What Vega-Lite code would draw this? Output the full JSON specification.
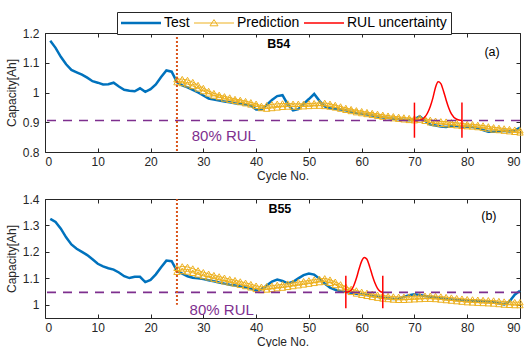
{
  "$schema": "https://vega.github.io/schema/vega-lite/v6.json",
  "background": "white",
  "padding": {"left": 5, "top": 11, "right": 0, "bottom": 0},
  "bounds": "flush",
  "spacing": 47,
  "resolve": {"legend": {"color": "independent"}, "scale": {"color": "independent"}},
  "config": {
    "font": "Liberation Sans",
    "view": {"stroke": null},
    "axis": {
      "grid": false,
      "domainColor": "#262626",
      "tickColor": "#262626",
      "labelColor": "#262626",
      "titleColor": "#262626",
      "labelFontSize": 12,
      "titleFontSize": 12,
      "titleFontWeight": "normal",
      "tickSize": -4,
      "labelPadding": 10,
      "domainWidth": 1,
      "tickWidth": 1
    },
    "axisX": {"labelPadding": 8, "titlePadding": 3},
    "axisY": {"titlePadding": 4}
  },
  "datasets": {
    "one": [{"k": 1}],
    "b54": [
      {"c":1,"v":1.174,"s":"Test","r":"T"},{"c":2,"v":1.15,"s":"Test","r":"T"},{"c":3,"v":1.12,"s":"Test","r":"T"},{"c":4,"v":1.095,"s":"Test","r":"T"},{"c":5,"v":1.076,"s":"Test","r":"T"},
      {"c":6,"v":1.068,"s":"Test","r":"T"},{"c":7,"v":1.06,"s":"Test","r":"T"},{"c":8,"v":1.05,"s":"Test","r":"T"},{"c":9,"v":1.038,"s":"Test","r":"T"},{"c":10,"v":1.033,"s":"Test","r":"T"},
      {"c":11,"v":1.027,"s":"Test","r":"T"},{"c":12,"v":1.028,"s":"Test","r":"T"},{"c":13,"v":1.033,"s":"Test","r":"T"},{"c":14,"v":1.02,"s":"Test","r":"T"},{"c":15,"v":1.009,"s":"Test","r":"T"},
      {"c":16,"v":1.006,"s":"Test","r":"T"},{"c":17,"v":1.004,"s":"Test","r":"T"},{"c":18,"v":1.014,"s":"Test","r":"T"},{"c":19,"v":1.002,"s":"Test","r":"T"},{"c":20,"v":1.011,"s":"Test","r":"T"},
      {"c":21,"v":1.027,"s":"Test","r":"T"},{"c":22,"v":1.052,"s":"Test","r":"T"},{"c":23,"v":1.074,"s":"Test","r":"T"},{"c":24,"v":1.07,"s":"Test","r":"T"},{"c":25,"v":1.035,"s":"Test","r":"T"},
      {"c":26,"v":1.024,"s":"Test","r":"T"},{"c":27,"v":1.017,"s":"Test","r":"T"},{"c":28,"v":1.009,"s":"Test","r":"T"},{"c":29,"v":1.0,"s":"Test","r":"T"},{"c":30,"v":0.99,"s":"Test","r":"T"},
      {"c":31,"v":0.98,"s":"Test","r":"T"},{"c":32,"v":0.976,"s":"Test","r":"T"},{"c":33,"v":0.973,"s":"Test","r":"T"},{"c":34,"v":0.97,"s":"Test","r":"T"},{"c":35,"v":0.967,"s":"Test","r":"T"},
      {"c":36,"v":0.964,"s":"Test","r":"T"},{"c":37,"v":0.962,"s":"Test","r":"T"},{"c":38,"v":0.96,"s":"Test","r":"T"},{"c":39,"v":0.956,"s":"Test","r":"T"},{"c":40,"v":0.943,"s":"Test","r":"T"},
      {"c":41,"v":0.943,"s":"Test","r":"T"},{"c":42,"v":0.958,"s":"Test","r":"T"},{"c":43,"v":0.975,"s":"Test","r":"T"},{"c":44,"v":0.988,"s":"Test","r":"T"},{"c":45,"v":0.991,"s":"Test","r":"T"},
      {"c":46,"v":0.96,"s":"Test","r":"T"},{"c":47,"v":0.94,"s":"Test","r":"T"},{"c":48,"v":0.944,"s":"Test","r":"T"},{"c":49,"v":0.962,"s":"Test","r":"T"},{"c":50,"v":0.978,"s":"Test","r":"T"},
      {"c":51,"v":0.995,"s":"Test","r":"T"},{"c":52,"v":0.972,"s":"Test","r":"T"},{"c":53,"v":0.953,"s":"Test","r":"T"},{"c":54,"v":0.947,"s":"Test","r":"T"},{"c":55,"v":0.945,"s":"Test","r":"T"},
      {"c":56,"v":0.943,"s":"Test","r":"T"},{"c":57,"v":0.94,"s":"Test","r":"T"},{"c":58,"v":0.935,"s":"Test","r":"T"},{"c":59,"v":0.931,"s":"Test","r":"T"},{"c":60,"v":0.929,"s":"Test","r":"T"},
      {"c":61,"v":0.926,"s":"Test","r":"T"},{"c":62,"v":0.923,"s":"Test","r":"T"},{"c":63,"v":0.919,"s":"Test","r":"T"},{"c":64,"v":0.916,"s":"Test","r":"T"},{"c":65,"v":0.914,"s":"Test","r":"T"},
      {"c":66,"v":0.912,"s":"Test","r":"T"},{"c":67,"v":0.91,"s":"Test","r":"T"},{"c":68,"v":0.908,"s":"Test","r":"T"},{"c":69,"v":0.907,"s":"Test","r":"T"},{"c":70,"v":0.91,"s":"Test","r":"T"},
      {"c":71,"v":0.92,"s":"Test","r":"T"},{"c":72,"v":0.905,"s":"Test","r":"T"},{"c":73,"v":0.892,"s":"Test","r":"T"},{"c":74,"v":0.889,"s":"Test","r":"T"},{"c":75,"v":0.886,"s":"Test","r":"T"},
      {"c":76,"v":0.884,"s":"Test","r":"T"},{"c":77,"v":0.887,"s":"Test","r":"T"},{"c":78,"v":0.887,"s":"Test","r":"T"},{"c":79,"v":0.886,"s":"Test","r":"T"},{"c":80,"v":0.885,"s":"Test","r":"T"},
      {"c":81,"v":0.884,"s":"Test","r":"T"},{"c":82,"v":0.881,"s":"Test","r":"T"},{"c":83,"v":0.874,"s":"Test","r":"T"},{"c":84,"v":0.868,"s":"Test","r":"T"},{"c":85,"v":0.868,"s":"Test","r":"T"},
      {"c":86,"v":0.87,"s":"Test","r":"T"},{"c":87,"v":0.871,"s":"Test","r":"T"},{"c":88,"v":0.869,"s":"Test","r":"T"},{"c":89,"v":0.872,"s":"Test","r":"T"},{"c":90,"v":0.882,"s":"Test","r":"T"},

      {"c":25,"v":1.045,"s":"Prediction","r":"A"},{"c":26,"v":1.045,"s":"Prediction","r":"A"},{"c":27,"v":1.042,"s":"Prediction","r":"A"},{"c":28,"v":1.035,"s":"Prediction","r":"A"},{"c":29,"v":1.025,"s":"Prediction","r":"A"},
      {"c":30,"v":1.015,"s":"Prediction","r":"A"},{"c":31,"v":1.005,"s":"Prediction","r":"A"},{"c":32,"v":0.998,"s":"Prediction","r":"A"},{"c":33,"v":0.992,"s":"Prediction","r":"A"},{"c":34,"v":0.987,"s":"Prediction","r":"A"},
      {"c":35,"v":0.983,"s":"Prediction","r":"A"},{"c":36,"v":0.978,"s":"Prediction","r":"A"},{"c":37,"v":0.975,"s":"Prediction","r":"A"},{"c":38,"v":0.971,"s":"Prediction","r":"A"},{"c":39,"v":0.967,"s":"Prediction","r":"A"},
      {"c":40,"v":0.962,"s":"Prediction","r":"A"},{"c":41,"v":0.955,"s":"Prediction","r":"A"},{"c":42,"v":0.957,"s":"Prediction","r":"A"},{"c":43,"v":0.96,"s":"Prediction","r":"A"},{"c":44,"v":0.962,"s":"Prediction","r":"A"},
      {"c":45,"v":0.963,"s":"Prediction","r":"A"},{"c":46,"v":0.963,"s":"Prediction","r":"A"},{"c":47,"v":0.962,"s":"Prediction","r":"A"},{"c":48,"v":0.962,"s":"Prediction","r":"A"},{"c":49,"v":0.962,"s":"Prediction","r":"A"},
      {"c":50,"v":0.963,"s":"Prediction","r":"A"},{"c":51,"v":0.964,"s":"Prediction","r":"A"},{"c":52,"v":0.965,"s":"Prediction","r":"A"},{"c":53,"v":0.965,"s":"Prediction","r":"A"},{"c":54,"v":0.962,"s":"Prediction","r":"A"},
      {"c":55,"v":0.958,"s":"Prediction","r":"A"},{"c":56,"v":0.953,"s":"Prediction","r":"A"},{"c":57,"v":0.948,"s":"Prediction","r":"A"},{"c":58,"v":0.944,"s":"Prediction","r":"A"},{"c":59,"v":0.94,"s":"Prediction","r":"A"},
      {"c":60,"v":0.937,"s":"Prediction","r":"A"},{"c":61,"v":0.934,"s":"Prediction","r":"A"},{"c":62,"v":0.931,"s":"Prediction","r":"A"},{"c":63,"v":0.928,"s":"Prediction","r":"A"},{"c":64,"v":0.925,"s":"Prediction","r":"A"},
      {"c":65,"v":0.922,"s":"Prediction","r":"A"},{"c":66,"v":0.92,"s":"Prediction","r":"A"},{"c":67,"v":0.918,"s":"Prediction","r":"A"},{"c":68,"v":0.916,"s":"Prediction","r":"A"},{"c":69,"v":0.914,"s":"Prediction","r":"A"},
      {"c":70,"v":0.913,"s":"Prediction","r":"A"},{"c":71,"v":0.915,"s":"Prediction","r":"A"},{"c":72,"v":0.912,"s":"Prediction","r":"A"},{"c":73,"v":0.908,"s":"Prediction","r":"A"},{"c":74,"v":0.905,"s":"Prediction","r":"A"},
      {"c":75,"v":0.903,"s":"Prediction","r":"A"},{"c":76,"v":0.902,"s":"Prediction","r":"A"},{"c":77,"v":0.9,"s":"Prediction","r":"A"},{"c":78,"v":0.898,"s":"Prediction","r":"A"},{"c":79,"v":0.896,"s":"Prediction","r":"A"},
      {"c":80,"v":0.894,"s":"Prediction","r":"A"},{"c":81,"v":0.893,"s":"Prediction","r":"A"},{"c":82,"v":0.891,"s":"Prediction","r":"A"},{"c":83,"v":0.889,"s":"Prediction","r":"A"},{"c":84,"v":0.886,"s":"Prediction","r":"A"},
      {"c":85,"v":0.883,"s":"Prediction","r":"A"},{"c":86,"v":0.881,"s":"Prediction","r":"A"},{"c":87,"v":0.879,"s":"Prediction","r":"A"},{"c":88,"v":0.877,"s":"Prediction","r":"A"},{"c":89,"v":0.875,"s":"Prediction","r":"A"},
      {"c":90,"v":0.873,"s":"Prediction","r":"A"},

      {"c":25,"v":1.035,"s":"Prediction","r":"B"},{"c":26,"v":1.032,"s":"Prediction","r":"B"},{"c":27,"v":1.028,"s":"Prediction","r":"B"},{"c":28,"v":1.022,"s":"Prediction","r":"B"},{"c":29,"v":1.014,"s":"Prediction","r":"B"},
      {"c":30,"v":1.005,"s":"Prediction","r":"B"},{"c":31,"v":0.997,"s":"Prediction","r":"B"},{"c":32,"v":0.99,"s":"Prediction","r":"B"},{"c":33,"v":0.985,"s":"Prediction","r":"B"},{"c":34,"v":0.98,"s":"Prediction","r":"B"},
      {"c":35,"v":0.976,"s":"Prediction","r":"B"},{"c":36,"v":0.972,"s":"Prediction","r":"B"},{"c":37,"v":0.968,"s":"Prediction","r":"B"},{"c":38,"v":0.964,"s":"Prediction","r":"B"},{"c":39,"v":0.96,"s":"Prediction","r":"B"},
      {"c":40,"v":0.955,"s":"Prediction","r":"B"},{"c":41,"v":0.948,"s":"Prediction","r":"B"},{"c":42,"v":0.946,"s":"Prediction","r":"B"},{"c":43,"v":0.948,"s":"Prediction","r":"B"},{"c":44,"v":0.95,"s":"Prediction","r":"B"},
      {"c":45,"v":0.952,"s":"Prediction","r":"B"},{"c":46,"v":0.953,"s":"Prediction","r":"B"},{"c":47,"v":0.953,"s":"Prediction","r":"B"},{"c":48,"v":0.953,"s":"Prediction","r":"B"},{"c":49,"v":0.954,"s":"Prediction","r":"B"},
      {"c":50,"v":0.955,"s":"Prediction","r":"B"},{"c":51,"v":0.956,"s":"Prediction","r":"B"},{"c":52,"v":0.956,"s":"Prediction","r":"B"},{"c":53,"v":0.955,"s":"Prediction","r":"B"},{"c":54,"v":0.953,"s":"Prediction","r":"B"},
      {"c":55,"v":0.95,"s":"Prediction","r":"B"},{"c":56,"v":0.946,"s":"Prediction","r":"B"},{"c":57,"v":0.942,"s":"Prediction","r":"B"},{"c":58,"v":0.938,"s":"Prediction","r":"B"},{"c":59,"v":0.934,"s":"Prediction","r":"B"},
      {"c":60,"v":0.931,"s":"Prediction","r":"B"},{"c":61,"v":0.928,"s":"Prediction","r":"B"},{"c":62,"v":0.925,"s":"Prediction","r":"B"},{"c":63,"v":0.922,"s":"Prediction","r":"B"},{"c":64,"v":0.919,"s":"Prediction","r":"B"},
      {"c":65,"v":0.916,"s":"Prediction","r":"B"},{"c":66,"v":0.914,"s":"Prediction","r":"B"},{"c":67,"v":0.912,"s":"Prediction","r":"B"},{"c":68,"v":0.91,"s":"Prediction","r":"B"},{"c":69,"v":0.908,"s":"Prediction","r":"B"},
      {"c":70,"v":0.907,"s":"Prediction","r":"B"},{"c":71,"v":0.909,"s":"Prediction","r":"B"},{"c":72,"v":0.905,"s":"Prediction","r":"B"},{"c":73,"v":0.9,"s":"Prediction","r":"B"},{"c":74,"v":0.897,"s":"Prediction","r":"B"},
      {"c":75,"v":0.895,"s":"Prediction","r":"B"},{"c":76,"v":0.894,"s":"Prediction","r":"B"},{"c":77,"v":0.892,"s":"Prediction","r":"B"},{"c":78,"v":0.89,"s":"Prediction","r":"B"},{"c":79,"v":0.888,"s":"Prediction","r":"B"},
      {"c":80,"v":0.887,"s":"Prediction","r":"B"},{"c":81,"v":0.886,"s":"Prediction","r":"B"},{"c":82,"v":0.884,"s":"Prediction","r":"B"},{"c":83,"v":0.882,"s":"Prediction","r":"B"},{"c":84,"v":0.879,"s":"Prediction","r":"B"},
      {"c":85,"v":0.876,"s":"Prediction","r":"B"},{"c":86,"v":0.874,"s":"Prediction","r":"B"},{"c":87,"v":0.872,"s":"Prediction","r":"B"},{"c":88,"v":0.87,"s":"Prediction","r":"B"},{"c":89,"v":0.868,"s":"Prediction","r":"B"},
      {"c":90,"v":0.866,"s":"Prediction","r":"B"},

      {"c":70,"v":0.905,"s":"RUL uncertainty","r":"U"},{"c":71,"v":0.907,"s":"RUL uncertainty","r":"U"},{"c":72,"v":0.918,"s":"RUL uncertainty","r":"U"},{"c":72.5,"v":0.932,"s":"RUL uncertainty","r":"U"},
      {"c":73,"v":0.953,"s":"RUL uncertainty","r":"U"},{"c":73.5,"v":0.982,"s":"RUL uncertainty","r":"U"},{"c":74,"v":1.018,"s":"RUL uncertainty","r":"U"},{"c":74.5,"v":1.036,"s":"RUL uncertainty","r":"U"},
      {"c":75,"v":1.03,"s":"RUL uncertainty","r":"U"},{"c":75.5,"v":1.005,"s":"RUL uncertainty","r":"U"},{"c":76,"v":0.975,"s":"RUL uncertainty","r":"U"},{"c":76.5,"v":0.948,"s":"RUL uncertainty","r":"U"},
      {"c":77,"v":0.928,"s":"RUL uncertainty","r":"U"},{"c":78,"v":0.91,"s":"RUL uncertainty","r":"U"},{"c":79,"v":0.906,"s":"RUL uncertainty","r":"U"}
    ],
    "b54bars": [{"c":70,"lo":0.848,"hi":0.966},{"c":79,"lo":0.848,"hi":0.966}],
    "b55": [
      {"c":1,"v":1.325,"s":"Test","r":"T"},{"c":2,"v":1.313,"s":"Test","r":"T"},{"c":3,"v":1.288,"s":"Test","r":"T"},{"c":4,"v":1.255,"s":"Test","r":"T"},{"c":5,"v":1.228,"s":"Test","r":"T"},
      {"c":6,"v":1.212,"s":"Test","r":"T"},{"c":7,"v":1.2,"s":"Test","r":"T"},{"c":8,"v":1.188,"s":"Test","r":"T"},{"c":9,"v":1.172,"s":"Test","r":"T"},{"c":10,"v":1.155,"s":"Test","r":"T"},
      {"c":11,"v":1.145,"s":"Test","r":"T"},{"c":12,"v":1.138,"s":"Test","r":"T"},{"c":13,"v":1.133,"s":"Test","r":"T"},{"c":14,"v":1.122,"s":"Test","r":"T"},{"c":15,"v":1.108,"s":"Test","r":"T"},
      {"c":16,"v":1.101,"s":"Test","r":"T"},{"c":17,"v":1.106,"s":"Test","r":"T"},{"c":18,"v":1.106,"s":"Test","r":"T"},{"c":19,"v":1.086,"s":"Test","r":"T"},{"c":20,"v":1.094,"s":"Test","r":"T"},
      {"c":21,"v":1.115,"s":"Test","r":"T"},{"c":22,"v":1.142,"s":"Test","r":"T"},{"c":23,"v":1.167,"s":"Test","r":"T"},{"c":24,"v":1.165,"s":"Test","r":"T"},{"c":25,"v":1.128,"s":"Test","r":"T"},
      {"c":26,"v":1.118,"s":"Test","r":"T"},{"c":27,"v":1.108,"s":"Test","r":"T"},{"c":28,"v":1.102,"s":"Test","r":"T"},{"c":29,"v":1.1,"s":"Test","r":"T"},{"c":30,"v":1.097,"s":"Test","r":"T"},
      {"c":31,"v":1.093,"s":"Test","r":"T"},{"c":32,"v":1.089,"s":"Test","r":"T"},{"c":33,"v":1.084,"s":"Test","r":"T"},{"c":34,"v":1.08,"s":"Test","r":"T"},{"c":35,"v":1.076,"s":"Test","r":"T"},
      {"c":36,"v":1.073,"s":"Test","r":"T"},{"c":37,"v":1.069,"s":"Test","r":"T"},{"c":38,"v":1.065,"s":"Test","r":"T"},{"c":39,"v":1.061,"s":"Test","r":"T"},{"c":40,"v":1.054,"s":"Test","r":"T"},
      {"c":41,"v":1.058,"s":"Test","r":"T"},{"c":42,"v":1.073,"s":"Test","r":"T"},{"c":43,"v":1.088,"s":"Test","r":"T"},{"c":44,"v":1.095,"s":"Test","r":"T"},{"c":45,"v":1.09,"s":"Test","r":"T"},
      {"c":46,"v":1.081,"s":"Test","r":"T"},{"c":47,"v":1.087,"s":"Test","r":"T"},{"c":48,"v":1.1,"s":"Test","r":"T"},{"c":49,"v":1.112,"s":"Test","r":"T"},{"c":50,"v":1.118,"s":"Test","r":"T"},
      {"c":51,"v":1.114,"s":"Test","r":"T"},{"c":52,"v":1.099,"s":"Test","r":"T"},{"c":53,"v":1.08,"s":"Test","r":"T"},{"c":54,"v":1.065,"s":"Test","r":"T"},{"c":55,"v":1.057,"s":"Test","r":"T"},
      {"c":56,"v":1.051,"s":"Test","r":"T"},{"c":57,"v":1.048,"s":"Test","r":"T"},{"c":58,"v":1.045,"s":"Test","r":"T"},{"c":59,"v":1.042,"s":"Test","r":"T"},{"c":60,"v":1.04,"s":"Test","r":"T"},
      {"c":61,"v":1.037,"s":"Test","r":"T"},{"c":62,"v":1.033,"s":"Test","r":"T"},{"c":63,"v":1.03,"s":"Test","r":"T"},{"c":64,"v":1.027,"s":"Test","r":"T"},{"c":65,"v":1.025,"s":"Test","r":"T"},
      {"c":66,"v":1.022,"s":"Test","r":"T"},{"c":67,"v":1.023,"s":"Test","r":"T"},{"c":68,"v":1.03,"s":"Test","r":"T"},{"c":69,"v":1.036,"s":"Test","r":"T"},{"c":70,"v":1.04,"s":"Test","r":"T"},
      {"c":71,"v":1.037,"s":"Test","r":"T"},{"c":72,"v":1.033,"s":"Test","r":"T"},{"c":73,"v":1.03,"s":"Test","r":"T"},{"c":74,"v":1.028,"s":"Test","r":"T"},{"c":75,"v":1.025,"s":"Test","r":"T"},
      {"c":76,"v":1.022,"s":"Test","r":"T"},{"c":77,"v":1.02,"s":"Test","r":"T"},{"c":78,"v":1.018,"s":"Test","r":"T"},{"c":79,"v":1.017,"s":"Test","r":"T"},{"c":80,"v":1.016,"s":"Test","r":"T"},
      {"c":81,"v":1.015,"s":"Test","r":"T"},{"c":82,"v":1.014,"s":"Test","r":"T"},{"c":83,"v":1.013,"s":"Test","r":"T"},{"c":84,"v":1.012,"s":"Test","r":"T"},{"c":85,"v":1.01,"s":"Test","r":"T"},
      {"c":86,"v":1.006,"s":"Test","r":"T"},{"c":87,"v":1.001,"s":"Test","r":"T"},{"c":88,"v":1.012,"s":"Test","r":"T"},{"c":89,"v":1.038,"s":"Test","r":"T"},{"c":90,"v":1.053,"s":"Test","r":"T"},

      {"c":25,"v":1.14,"s":"Prediction","r":"A"},{"c":26,"v":1.145,"s":"Prediction","r":"A"},{"c":27,"v":1.143,"s":"Prediction","r":"A"},{"c":28,"v":1.137,"s":"Prediction","r":"A"},{"c":29,"v":1.13,"s":"Prediction","r":"A"},
      {"c":30,"v":1.123,"s":"Prediction","r":"A"},{"c":31,"v":1.117,"s":"Prediction","r":"A"},{"c":32,"v":1.112,"s":"Prediction","r":"A"},{"c":33,"v":1.107,"s":"Prediction","r":"A"},{"c":34,"v":1.102,"s":"Prediction","r":"A"},
      {"c":35,"v":1.097,"s":"Prediction","r":"A"},{"c":36,"v":1.093,"s":"Prediction","r":"A"},{"c":37,"v":1.088,"s":"Prediction","r":"A"},{"c":38,"v":1.083,"s":"Prediction","r":"A"},{"c":39,"v":1.078,"s":"Prediction","r":"A"},
      {"c":40,"v":1.072,"s":"Prediction","r":"A"},{"c":41,"v":1.068,"s":"Prediction","r":"A"},{"c":42,"v":1.07,"s":"Prediction","r":"A"},{"c":43,"v":1.072,"s":"Prediction","r":"A"},{"c":44,"v":1.075,"s":"Prediction","r":"A"},
      {"c":45,"v":1.077,"s":"Prediction","r":"A"},{"c":46,"v":1.08,"s":"Prediction","r":"A"},{"c":47,"v":1.083,"s":"Prediction","r":"A"},{"c":48,"v":1.086,"s":"Prediction","r":"A"},{"c":49,"v":1.089,"s":"Prediction","r":"A"},
      {"c":50,"v":1.092,"s":"Prediction","r":"A"},{"c":51,"v":1.095,"s":"Prediction","r":"A"},{"c":52,"v":1.098,"s":"Prediction","r":"A"},{"c":53,"v":1.1,"s":"Prediction","r":"A"},{"c":54,"v":1.095,"s":"Prediction","r":"A"},
      {"c":55,"v":1.087,"s":"Prediction","r":"A"},{"c":56,"v":1.077,"s":"Prediction","r":"A"},{"c":57,"v":1.068,"s":"Prediction","r":"A"},{"c":58,"v":1.06,"s":"Prediction","r":"A"},{"c":59,"v":1.054,"s":"Prediction","r":"A"},
      {"c":60,"v":1.049,"s":"Prediction","r":"A"},{"c":61,"v":1.045,"s":"Prediction","r":"A"},{"c":62,"v":1.041,"s":"Prediction","r":"A"},{"c":63,"v":1.038,"s":"Prediction","r":"A"},{"c":64,"v":1.035,"s":"Prediction","r":"A"},
      {"c":65,"v":1.033,"s":"Prediction","r":"A"},{"c":66,"v":1.031,"s":"Prediction","r":"A"},{"c":67,"v":1.03,"s":"Prediction","r":"A"},{"c":68,"v":1.03,"s":"Prediction","r":"A"},{"c":69,"v":1.031,"s":"Prediction","r":"A"},
      {"c":70,"v":1.032,"s":"Prediction","r":"A"},{"c":71,"v":1.033,"s":"Prediction","r":"A"},{"c":72,"v":1.034,"s":"Prediction","r":"A"},{"c":73,"v":1.034,"s":"Prediction","r":"A"},{"c":74,"v":1.033,"s":"Prediction","r":"A"},
      {"c":75,"v":1.031,"s":"Prediction","r":"A"},{"c":76,"v":1.029,"s":"Prediction","r":"A"},{"c":77,"v":1.027,"s":"Prediction","r":"A"},{"c":78,"v":1.025,"s":"Prediction","r":"A"},{"c":79,"v":1.023,"s":"Prediction","r":"A"},
      {"c":80,"v":1.021,"s":"Prediction","r":"A"},{"c":81,"v":1.02,"s":"Prediction","r":"A"},{"c":82,"v":1.019,"s":"Prediction","r":"A"},{"c":83,"v":1.018,"s":"Prediction","r":"A"},{"c":84,"v":1.017,"s":"Prediction","r":"A"},
      {"c":85,"v":1.016,"s":"Prediction","r":"A"},{"c":86,"v":1.014,"s":"Prediction","r":"A"},{"c":87,"v":1.012,"s":"Prediction","r":"A"},{"c":88,"v":1.011,"s":"Prediction","r":"A"},{"c":89,"v":1.01,"s":"Prediction","r":"A"},
      {"c":90,"v":1.01,"s":"Prediction","r":"A"},

      {"c":25,"v":1.125,"s":"Prediction","r":"B"},{"c":26,"v":1.128,"s":"Prediction","r":"B"},{"c":27,"v":1.126,"s":"Prediction","r":"B"},{"c":28,"v":1.121,"s":"Prediction","r":"B"},{"c":29,"v":1.115,"s":"Prediction","r":"B"},
      {"c":30,"v":1.109,"s":"Prediction","r":"B"},{"c":31,"v":1.104,"s":"Prediction","r":"B"},{"c":32,"v":1.099,"s":"Prediction","r":"B"},{"c":33,"v":1.094,"s":"Prediction","r":"B"},{"c":34,"v":1.089,"s":"Prediction","r":"B"},
      {"c":35,"v":1.085,"s":"Prediction","r":"B"},{"c":36,"v":1.081,"s":"Prediction","r":"B"},{"c":37,"v":1.076,"s":"Prediction","r":"B"},{"c":38,"v":1.071,"s":"Prediction","r":"B"},{"c":39,"v":1.066,"s":"Prediction","r":"B"},
      {"c":40,"v":1.06,"s":"Prediction","r":"B"},{"c":41,"v":1.056,"s":"Prediction","r":"B"},{"c":42,"v":1.058,"s":"Prediction","r":"B"},{"c":43,"v":1.06,"s":"Prediction","r":"B"},{"c":44,"v":1.063,"s":"Prediction","r":"B"},
      {"c":45,"v":1.065,"s":"Prediction","r":"B"},{"c":46,"v":1.068,"s":"Prediction","r":"B"},{"c":47,"v":1.071,"s":"Prediction","r":"B"},{"c":48,"v":1.074,"s":"Prediction","r":"B"},{"c":49,"v":1.077,"s":"Prediction","r":"B"},
      {"c":50,"v":1.08,"s":"Prediction","r":"B"},{"c":51,"v":1.083,"s":"Prediction","r":"B"},{"c":52,"v":1.086,"s":"Prediction","r":"B"},{"c":53,"v":1.088,"s":"Prediction","r":"B"},{"c":54,"v":1.083,"s":"Prediction","r":"B"},
      {"c":55,"v":1.075,"s":"Prediction","r":"B"},{"c":56,"v":1.066,"s":"Prediction","r":"B"},{"c":57,"v":1.057,"s":"Prediction","r":"B"},{"c":58,"v":1.049,"s":"Prediction","r":"B"},{"c":59,"v":1.043,"s":"Prediction","r":"B"},
      {"c":60,"v":1.038,"s":"Prediction","r":"B"},{"c":61,"v":1.034,"s":"Prediction","r":"B"},{"c":62,"v":1.03,"s":"Prediction","r":"B"},{"c":63,"v":1.027,"s":"Prediction","r":"B"},{"c":64,"v":1.024,"s":"Prediction","r":"B"},
      {"c":65,"v":1.022,"s":"Prediction","r":"B"},{"c":66,"v":1.02,"s":"Prediction","r":"B"},{"c":67,"v":1.019,"s":"Prediction","r":"B"},{"c":68,"v":1.019,"s":"Prediction","r":"B"},{"c":69,"v":1.02,"s":"Prediction","r":"B"},
      {"c":70,"v":1.021,"s":"Prediction","r":"B"},{"c":71,"v":1.022,"s":"Prediction","r":"B"},{"c":72,"v":1.023,"s":"Prediction","r":"B"},{"c":73,"v":1.023,"s":"Prediction","r":"B"},{"c":74,"v":1.022,"s":"Prediction","r":"B"},
      {"c":75,"v":1.02,"s":"Prediction","r":"B"},{"c":76,"v":1.018,"s":"Prediction","r":"B"},{"c":77,"v":1.016,"s":"Prediction","r":"B"},{"c":78,"v":1.014,"s":"Prediction","r":"B"},{"c":79,"v":1.012,"s":"Prediction","r":"B"},
      {"c":80,"v":1.01,"s":"Prediction","r":"B"},{"c":81,"v":1.009,"s":"Prediction","r":"B"},{"c":82,"v":1.008,"s":"Prediction","r":"B"},{"c":83,"v":1.007,"s":"Prediction","r":"B"},{"c":84,"v":1.006,"s":"Prediction","r":"B"},
      {"c":85,"v":1.005,"s":"Prediction","r":"B"},{"c":86,"v":1.003,"s":"Prediction","r":"B"},{"c":87,"v":1.001,"s":"Prediction","r":"B"},{"c":88,"v":1.0,"s":"Prediction","r":"B"},{"c":89,"v":0.999,"s":"Prediction","r":"B"},
      {"c":90,"v":0.999,"s":"Prediction","r":"B"},

      {"c":57,"v":1.046,"s":"RUL uncertainty","r":"U"},{"c":58,"v":1.055,"s":"RUL uncertainty","r":"U"},{"c":58.5,"v":1.072,"s":"RUL uncertainty","r":"U"},{"c":59,"v":1.1,"s":"RUL uncertainty","r":"U"},
      {"c":59.5,"v":1.135,"s":"RUL uncertainty","r":"U"},{"c":60,"v":1.165,"s":"RUL uncertainty","r":"U"},{"c":60.5,"v":1.179,"s":"RUL uncertainty","r":"U"},{"c":61,"v":1.172,"s":"RUL uncertainty","r":"U"},
      {"c":61.5,"v":1.145,"s":"RUL uncertainty","r":"U"},{"c":62,"v":1.112,"s":"RUL uncertainty","r":"U"},{"c":62.5,"v":1.083,"s":"RUL uncertainty","r":"U"},{"c":63,"v":1.062,"s":"RUL uncertainty","r":"U"},
      {"c":63.5,"v":1.051,"s":"RUL uncertainty","r":"U"},{"c":64,"v":1.047,"s":"RUL uncertainty","r":"U"}
    ],
    "b55bars": [{"c":57,"lo":0.987,"hi":1.11},{"c":64,"lo":0.987,"hi":1.11}]
  },
  "vconcat": [
    {
      "width": 475,
      "height": 119,
      "data": {"name": "b54"},
      "resolve": {"axis": {"x": "independent", "y": "independent"}},
      "layer": [
        {
          "transform": [{"filter": "datum.s === 'Test'"}],
          "mark": {"type": "line", "strokeWidth": 2.5},
          "encoding": {
            "x": {"field": "c", "type": "quantitative", "scale": {"domain": [0, 90], "nice": false},
                  "axis": {"values": [0,10,20,30,40,50,60,70,80,90], "title": "Cycle No.",
                           "encode": {"labels": {"update": {"align": {"signal": "datum.value === 90 ? 'right' : 'center'"}, "dx": {"signal": "datum.value === 90 ? 6 : 0"}}}}}},
            "y": {"field": "v", "type": "quantitative", "scale": {"domain": [0.8, 1.2], "nice": false, "zero": false},
                  "axis": {"values": [0.8, 0.9, 1, 1.1, 1.2], "format": "~g", "title": "Capacity[Ah]"}},
            "color": {"field": "s", "type": "nominal",
                      "scale": {"domain": ["Test", "Prediction", "RUL uncertainty"], "range": ["#0072BD", "#EDB120", "#FF0000"]},
                      "legend": {
                        "orient": "none", "legendX": 72, "legendY": -21, "direction": "horizontal",
                        "title": null, "padding": 3, "strokeColor": "#262626", "fillColor": "white",
                        "symbolSize": 1600, "symbolType": "stroke", "clipHeight": 16,
                        "labelFontSize": 14, "labelColor": "black",
                        "labelOffset": 2, "columnPadding": 3, "labelFont": "Liberation Sans",
                        "encode": {
                          "symbols": {"update": {
                            "shape": {"signal": "datum.value === 'Prediction' ? 'M-1,0H1M0,-0.17L0.2,0.14L-0.2,0.14Z' : 'stroke'"},
                            "strokeWidth": {"signal": "(datum.value === 'Test' ? 2.5 : (datum.value === 'Prediction' ? 1 : 1.5))"},
                            "fill": {"value": "transparent"}
                          }}
                        }
                      }}
          }
        },
        {
          "transform": [{"filter": "datum.s === 'Prediction'"}],
          "mark": {"type": "line", "strokeWidth": 1, "point": {"shape": "triangle-up", "filled": false, "size": 40, "strokeWidth": 1}},
          "encoding": {
            "x": {"field": "c", "type": "quantitative", "axis": null},
            "y": {"field": "v", "type": "quantitative", "axis": null},
            "color": {"field": "s", "type": "nominal"},
            "detail": {"field": "r"}
          }
        },
        {
          "transform": [{"filter": "datum.s === 'RUL uncertainty'"}],
          "mark": {"type": "line", "strokeWidth": 1.5, "interpolate": "monotone"},
          "encoding": {
            "x": {"field": "c", "type": "quantitative", "axis": null},
            "y": {"field": "v", "type": "quantitative", "axis": null},
            "color": {"field": "s", "type": "nominal"}
          }
        },
        {
          "data": {"name": "b54bars"},
          "mark": {"type": "rule", "color": "#FF0000", "strokeWidth": 1.5},
          "encoding": {
            "x": {"field": "c", "type": "quantitative", "axis": null},
            "y": {"field": "lo", "type": "quantitative", "axis": null},
            "y2": {"field": "hi"}
          }
        },
        {
          "data": {"name": "one"},
          "mark": {"type": "rule", "color": "#7E2F8E", "strokeWidth": 1.6, "strokeDash": [9, 7]},
          "encoding": {"y": {"datum": 0.906, "type": "quantitative", "axis": null}}
        },
        {
          "data": {"name": "one"},
          "mark": {"type": "rule", "color": "#D95319", "strokeWidth": 2, "strokeDash": [2, 2]},
          "encoding": {
            "x": {"datum": 25, "type": "quantitative", "axis": {"orient": "top", "labels": false, "title": null, "values": [0,10,20,30,40,50,60,70,80,90]}},
            "y": {"datum": 1.2, "type": "quantitative", "axis": {"orient": "right", "labels": false, "title": null, "values": [0.8, 0.9, 1, 1.1, 1.2]}},
            "y2": {"datum": 0.8}
          }
        },
        {
          "data": {"name": "one"},
          "mark": {"type": "text", "text": "80% RUL", "align": "left", "baseline": "middle", "fontSize": 15, "color": "#7E2F8E"},
          "encoding": {"x": {"datum": 27.8, "type": "quantitative", "axis": null}, "y": {"datum": 0.855, "type": "quantitative", "axis": null}}
        },
        {
          "data": {"name": "one"},
          "mark": {"type": "text", "text": "(a)", "align": "center", "baseline": "middle", "fontSize": 12.5, "color": "black"},
          "encoding": {"x": {"datum": 84.7, "type": "quantitative", "axis": null}, "y": {"datum": 1.136, "type": "quantitative", "axis": null}}
        },
        {
          "data": {"name": "one"},
          "mark": {"type": "text", "text": "B54", "align": "center", "baseline": "middle", "fontSize": 12.5, "fontWeight": "bold", "color": "black"},
          "encoding": {"x": {"datum": 44.3, "type": "quantitative", "axis": null}, "y": {"datum": 1.163, "type": "quantitative", "axis": null}}
        }
      ]
    },
    {
      "width": 475,
      "height": 119,
      "data": {"name": "b55"},
      "resolve": {"axis": {"x": "independent", "y": "independent"}},
      "layer": [
        {
          "transform": [{"filter": "datum.s === 'Test'"}],
          "mark": {"type": "line", "strokeWidth": 2.5},
          "encoding": {
            "x": {"field": "c", "type": "quantitative", "scale": {"domain": [0, 90], "nice": false},
                  "axis": {"values": [0,10,20,30,40,50,60,70,80,90], "title": "Cycle No.",
                           "encode": {"labels": {"update": {"align": {"signal": "datum.value === 90 ? 'right' : 'center'"}, "dx": {"signal": "datum.value === 90 ? 6 : 0"}}}}}},
            "y": {"field": "v", "type": "quantitative", "scale": {"domain": [0.95, 1.4], "nice": false, "zero": false},
                  "axis": {"values": [1, 1.1, 1.2, 1.3, 1.4], "format": "~g", "title": "Capacity[Ah]"}},
            "color": {"field": "s", "type": "nominal",
                      "scale": {"domain": ["Test", "Prediction", "RUL uncertainty"], "range": ["#0072BD", "#EDB120", "#FF0000"]},
                      "legend": null}
          }
        },
        {
          "transform": [{"filter": "datum.s === 'Prediction'"}],
          "mark": {"type": "line", "strokeWidth": 1, "point": {"shape": "triangle-up", "filled": false, "size": 40, "strokeWidth": 1}},
          "encoding": {
            "x": {"field": "c", "type": "quantitative", "axis": null},
            "y": {"field": "v", "type": "quantitative", "axis": null},
            "color": {"field": "s", "type": "nominal", "legend": null},
            "detail": {"field": "r"}
          }
        },
        {
          "transform": [{"filter": "datum.s === 'RUL uncertainty'"}],
          "mark": {"type": "line", "strokeWidth": 1.5, "interpolate": "monotone"},
          "encoding": {
            "x": {"field": "c", "type": "quantitative", "axis": null},
            "y": {"field": "v", "type": "quantitative", "axis": null},
            "color": {"field": "s", "type": "nominal", "legend": null}
          }
        },
        {
          "data": {"name": "b55bars"},
          "mark": {"type": "rule", "color": "#FF0000", "strokeWidth": 1.5},
          "encoding": {
            "x": {"field": "c", "type": "quantitative", "axis": null},
            "y": {"field": "lo", "type": "quantitative", "axis": null},
            "y2": {"field": "hi"}
          }
        },
        {
          "data": {"name": "one"},
          "mark": {"type": "rule", "color": "#7E2F8E", "strokeWidth": 1.6, "strokeDash": [9, 7]},
          "encoding": {"y": {"datum": 1.047, "type": "quantitative", "axis": null}}
        },
        {
          "data": {"name": "one"},
          "mark": {"type": "rule", "color": "#D95319", "strokeWidth": 2, "strokeDash": [2, 2]},
          "encoding": {
            "x": {"datum": 25, "type": "quantitative", "axis": {"orient": "top", "labels": false, "title": null, "values": [0,10,20,30,40,50,60,70,80,90]}},
            "y": {"datum": 1.4, "type": "quantitative", "axis": {"orient": "right", "labels": false, "title": null, "values": [1, 1.1, 1.2, 1.3, 1.4]}},
            "y2": {"datum": 1.0}
          }
        },
        {
          "data": {"name": "one"},
          "mark": {"type": "text", "text": "80% RUL", "align": "left", "baseline": "middle", "fontSize": 15, "color": "#7E2F8E"},
          "encoding": {"x": {"datum": 27.4, "type": "quantitative", "axis": null}, "y": {"datum": 0.98, "type": "quantitative", "axis": null}}
        },
        {
          "data": {"name": "one"},
          "mark": {"type": "text", "text": "(b)", "align": "center", "baseline": "middle", "fontSize": 12.5, "color": "black"},
          "encoding": {"x": {"datum": 84.1, "type": "quantitative", "axis": null}, "y": {"datum": 1.335, "type": "quantitative", "axis": null}}
        },
        {
          "data": {"name": "one"},
          "mark": {"type": "text", "text": "B55", "align": "center", "baseline": "middle", "fontSize": 12.5, "fontWeight": "bold", "color": "black"},
          "encoding": {"x": {"datum": 44.5, "type": "quantitative", "axis": null}, "y": {"datum": 1.364, "type": "quantitative", "axis": null}}
        }
      ]
    }
  ]
}
